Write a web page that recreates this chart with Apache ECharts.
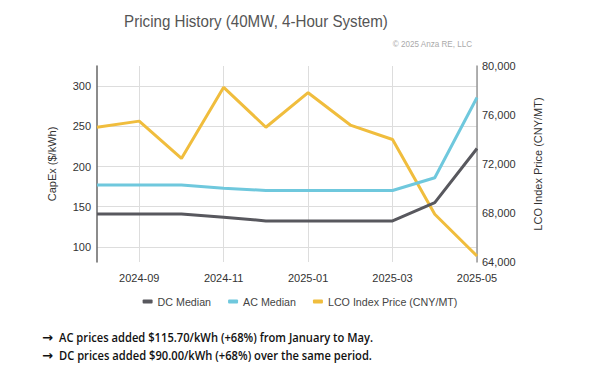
<!DOCTYPE html>
<html>
<head>
<meta charset="utf-8">
<script src="https://cdn.jsdelivr.net/npm/echarts@6/dist/echarts.min.js"></script>
<style>
html,body{margin:0;padding:0;background:#fff;}
#chart{width:600px;height:373px;}
</style>
</head>
<body>
<div id="chart"></div>
<script>
const months = ['2024-08','2024-09','2024-10','2024-11','2024-12','2025-01','2025-02','2025-03','2025-04','2025-05'];
const dcMedian = [141, 141, 141, 137, 132.35, 132.35, 132.35, 132.35, 155, 222.35];
const acMedian = [177, 177, 177, 173, 170.15, 170.15, 170.15, 170.15, 186, 285.85];
const lcoPrice = [75000, 75500, 72450, 78260, 75000, 77820, 75180, 74000, 67900, 64490];
const seriesNames = ['DC Median', 'AC Median', 'LCO Index Price (CNY/MT)'];
const notes = [
  'AC prices added $115.70/kWh (+68%) from January to May.',
  'DC prices added $90.00/kWh (+68%) over the same period.'
];

const chart = echarts.init(document.getElementById('chart'), null, {renderer: 'svg'});
const font = 'Liberation Sans, Arial, sans-serif';
const noteFont = '600 13px "Open Sans", sans-serif';
chart.setOption({
  animation: false,
  backgroundColor: '#fff',
  grid: {left: 97, right: 123, top: 66, bottom: 111, containLabel: false},
  legend: {
    data: seriesNames,
    left: 'center', top: 291,
    icon: 'roundRect', itemWidth: 10, itemHeight: 4, itemGap: 17,
    textStyle: {fontFamily: font, fontSize: 10.7, color: '#444'}
  },
  xAxis: {
    type: 'category', data: months, boundaryGap: false,
    axisLine: {show: false}, axisTick: {show: false},
    axisLabel: {interval: (i) => i % 2 === 1, fontFamily: font, fontSize: 11, color: '#333', margin: 10},
    splitLine: {show: true, interval: (i) => i % 2 === 1, lineStyle: {color: '#ddd', width: 1}}
  },
  yAxis: [
    {
      type: 'value', min: 81.25, max: 325, splitNumber: 5, position: 'left',
      name: 'CapEx ($/kWh)', nameLocation: 'middle', nameGap: 40, nameRotate: 90,
      nameTextStyle: {fontFamily: font, fontSize: 11, color: '#333'},
      axisLine: {show: true, lineStyle: {color: '#666', width: 1.5}},
      axisTick: {show: false},
      axisLabel: {showMinLabel: false, showMaxLabel: false, fontFamily: font, fontSize: 11, color: '#333', margin: 6},
      splitLine: {show: true, showMinLine: false, showMaxLine: false, lineStyle: {color: '#ddd', width: 1}}
    },
    {
      type: 'value', min: 64000, max: 80000, interval: 4000, position: 'right',
      name: 'LCO Index Price (CNY/MT)', nameLocation: 'middle', nameGap: 55, nameRotate: 90,
      nameTextStyle: {fontFamily: font, fontSize: 11, color: '#333'},
      axisLine: {show: true, lineStyle: {color: '#999', width: 1.5}},
      axisTick: {show: false},
      axisLabel: {fontFamily: font, fontSize: 11, color: '#333', margin: 5, formatter: (v) => v.toLocaleString('en-US')},
      splitLine: {show: false}
    }
  ],
  series: [
    {name: seriesNames[0], type: 'line', data: dcMedian, yAxisIndex: 0, symbol: 'none', lineStyle: {width: 3, color: '#58585e'}, itemStyle: {color: '#58585e'}, z: 3},
    {name: seriesNames[1], type: 'line', data: acMedian, yAxisIndex: 0, symbol: 'none', lineStyle: {width: 3, color: '#6fc8dd'}, itemStyle: {color: '#6fc8dd'}, z: 4},
    {name: seriesNames[2], type: 'line', data: lcoPrice, yAxisIndex: 1, symbol: 'none', lineStyle: {width: 3, color: '#f0bd3d'}, itemStyle: {color: '#f0bd3d'}, z: 2}
  ],
  graphic: [
    {type: 'text', x: 256, y: 12, scaleX: 0.89, originX: 0, style: {text: 'Pricing History (40MW, 4-Hour System)', align: 'center', verticalAlign: 'top', font: '17px Liberation Sans, Arial', fill: '#555'}},
    {type: 'text', x: 472, y: 39, scaleX: 0.9, originX: 0, style: {text: '\u00a9 2025 Anza RE, LLC', align: 'right', verticalAlign: 'top', font: '9px Liberation Sans, Arial', fill: '#aaa'}},
    {type: 'text', x: 42, y: 337, style: {text: '\u2192', align: 'left', verticalAlign: 'middle', font: 'bold 13px "DejaVu Sans", sans-serif', fill: '#111'}},
    {type: 'text', x: 42, y: 355.5, style: {text: '\u2192', align: 'left', verticalAlign: 'middle', font: 'bold 13px "DejaVu Sans", sans-serif', fill: '#111'}},
    {type: 'text', x: 59, y: 337, scaleX: 0.86, originX: 0, style: {text: notes[0], align: 'left', verticalAlign: 'middle', font: noteFont, fill: '#111'}},
    {type: 'text', x: 59, y: 355.5, scaleX: 0.86, originX: 0, style: {text: notes[1], align: 'left', verticalAlign: 'middle', font: noteFont, fill: '#111'}}
  ]
});
</script>
</body>
</html>
